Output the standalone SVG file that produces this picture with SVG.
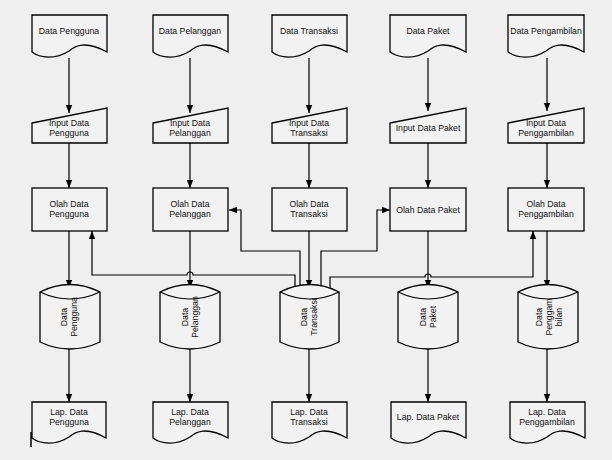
<svg xmlns="http://www.w3.org/2000/svg" width="612" height="460" viewBox="0 0 612 460">
<defs>
<style>
.s{fill:#f2f2f2;stroke:#000;stroke-width:1.3}
.c{fill:none;stroke:#000;stroke-width:1.2}
.l{fill:none;stroke:#000;stroke-width:1.1}
text{font-family:"Liberation Sans",Arial,sans-serif;font-size:8.7px;fill:#111;text-anchor:middle}
</style>
<marker id="a" viewBox="0 0 10 10" refX="10" refY="5" markerWidth="7" markerHeight="7" orient="auto"><path d="M0,1 L10,5 L0,9 z" fill="#000"/></marker>
</defs>
<rect width="612" height="460" fill="#efefef"/>
<g id="connectors" class="c">
<path d="M69,58 V113" marker-end="url(#a)"/><path d="M190,58 V113" marker-end="url(#a)"/><path d="M309,58 V113" marker-end="url(#a)"/><path d="M428,58 V111" marker-end="url(#a)"/><path d="M547,58 V111" marker-end="url(#a)"/>
<path d="M69,143 V188" marker-end="url(#a)"/><path d="M190,143 V188" marker-end="url(#a)"/><path d="M309,143 V188" marker-end="url(#a)"/><path d="M428,143 V188" marker-end="url(#a)"/><path d="M547,143 V188" marker-end="url(#a)"/>
<path d="M69,231 V288" marker-end="url(#a)"/><path d="M190,231 V288" marker-end="url(#a)"/><path d="M309,231 V288" marker-end="url(#a)"/><path d="M428,231 V288" marker-end="url(#a)"/><path d="M547,231 V288" marker-end="url(#a)"/>
<path d="M69,348 V402" marker-end="url(#a)"/><path d="M190,348 V402" marker-end="url(#a)"/><path d="M309,348 V402" marker-end="url(#a)"/><path d="M428,348 V402" marker-end="url(#a)"/><path d="M547,348 V402" marker-end="url(#a)"/>
<path d="M295,288 V275 H193 A3,3 0 0 0 187,275 H92 V231" marker-end="url(#a)"/>
<path d="M300,288 V251 H241 V210 H229" marker-end="url(#a)"/>
<path d="M321,288 V251 H377 V210 H390" marker-end="url(#a)"/>
<path d="M330,288 V277 H425 A3,3 0 0 1 431,277 H533 V231" marker-end="url(#a)"/>
</g>
<g id="n1"><path class="s" d="M32,15 H107 V52 C85,40 75,46 69,51 C55,60 40,58 32,52 Z"/><text x="69" y="34">Data Pengguna</text></g>
<g id="n2"><path class="s" d="M153,15 H228 V52 C206,40 196,46 190,51 C176,60 161,58 153,52 Z"/><text x="190" y="34">Data Pelanggan</text></g>
<g id="n3"><path class="s" d="M272,15 H347 V52 C325,40 315,46 309,51 C295,60 280,58 272,52 Z"/><text x="309" y="34">Data Transaksi</text></g>
<g id="n4"><path class="s" d="M390,15 H466 V52 C444,40 434,46 428,51 C414,60 399,58 390,52 Z"/><text x="428" y="34">Data Paket</text></g>
<g id="n5"><path class="s" d="M508,15 H584 V52 C562,40 552,46 546,51 C532,60 517,58 508,52 Z"/><text x="546" y="34">Data Pengambilan</text></g>
<g id="i1"><path class="s" d="M32,123 L107,108 V143 H32 Z"/><text x="69" y="126">Input Data</text><text x="69" y="136">Pengguna</text></g>
<g id="i2"><path class="s" d="M153,123 L228,108 V143 H153 Z"/><text x="190" y="126">Input Data</text><text x="190" y="136">Pelanggan</text></g>
<g id="i3"><path class="s" d="M272,123 L347,108 V143 H272 Z"/><text x="309" y="126">Input Data</text><text x="309" y="136">Transaksi</text></g>
<g id="i4"><path class="s" d="M390,123 L466,108 V143 H390 Z"/><text x="428" y="131">Input Data Paket</text></g>
<g id="i5"><path class="s" d="M508,123 L584,108 V143 H508 Z"/><text x="546" y="126">Input Data</text><text x="546" y="136">Penggambilan</text></g>
<g id="o1"><rect class="s" x="32" y="188" width="75" height="43"/><text x="69" y="207">Olah Data</text><text x="69" y="217">Pengguna</text></g>
<g id="o2"><rect class="s" x="153" y="188" width="75" height="43"/><text x="190" y="207">Olah Data</text><text x="190" y="217">Pelanggan</text></g>
<g id="o3"><rect class="s" x="272" y="188" width="75" height="43"/><text x="309" y="207">Olah Data</text><text x="309" y="217">Transaksi</text></g>
<g id="o4"><rect class="s" x="390" y="188" width="76" height="43"/><text x="428" y="213">Olah Data Paket</text></g>
<g id="o5"><rect class="s" x="508" y="188" width="76" height="43"/><text x="546" y="207">Olah Data</text><text x="546" y="217">Penggambilan</text></g>
<g id="d1"><path class="s" d="M40,292 Q70,277 100,292 V342 Q70,356 40,342 Z"/><path class="l" d="M40,292 Q70,306 100,292"/><text transform="translate(67,317) rotate(-90)">Data</text><text transform="translate(77,317) rotate(-90)">Pengguna</text></g>
<g id="d2"><path class="s" d="M160,292 Q190,277 220,292 V342 Q190,356 160,342 Z"/><path class="l" d="M160,292 Q190,306 220,292"/><text transform="translate(188,317) rotate(-90)">Data</text><text transform="translate(198,317) rotate(-90)">Pelanggan</text></g>
<g id="d3"><path class="s" d="M280,292 Q310,277 339,292 V342 Q310,356 280,342 Z"/><path class="l" d="M280,292 Q310,306 339,292"/><text transform="translate(307,317) rotate(-90)">Data</text><text transform="translate(317,317) rotate(-90)">Transaksi</text></g>
<g id="d4"><path class="s" d="M398,292 Q428,277 458,292 V342 Q428,356 398,342 Z"/><path class="l" d="M398,292 Q428,306 458,292"/><text transform="translate(426,317) rotate(-90)">Data</text><text transform="translate(436,317) rotate(-90)">Paket</text></g>
<g id="d5"><path class="s" d="M518,292 Q548,277 578,292 V342 Q548,356 518,342 Z"/><path class="l" d="M518,292 Q548,306 578,292"/><text transform="translate(542,317) rotate(-90)">Data</text><text transform="translate(552,317) rotate(-90)">Penggam</text><text transform="translate(562,317) rotate(-90)">bilan</text></g>
<g id="r1"><path class="s" d="M32,402 H106 V438 C85,426 75,432 69,437 C55,446 40,444 32,438 Z"/><text x="69" y="415">Lap. Data</text><text x="69" y="425">Pengguna</text></g>
<g id="r2"><path class="s" d="M153,402 H228 V438 C206,426 196,432 190,437 C176,446 161,444 153,438 Z"/><text x="190" y="415">Lap. Data</text><text x="190" y="425">Pelanggan</text></g>
<g id="r3"><path class="s" d="M272,402 H347 V438 C325,426 315,432 309,437 C295,446 280,444 272,438 Z"/><text x="309" y="415">Lap. Data</text><text x="309" y="425">Transaksi</text></g>
<g id="r4"><path class="s" d="M391,402 H466 V438 C444,426 434,432 428,437 C414,446 399,444 391,438 Z"/><text x="428" y="420">Lap. Data Paket</text></g>
<g id="r5"><path class="s" d="M510,402 H585 V438 C563,426 553,432 547,437 C533,446 518,444 510,438 Z"/><text x="547" y="415">Lap. Data</text><text x="547" y="425">Penggambilan</text></g>
<line x1="31" y1="432" x2="31" y2="447" stroke="#000" stroke-width="1.5"/>
</svg>
